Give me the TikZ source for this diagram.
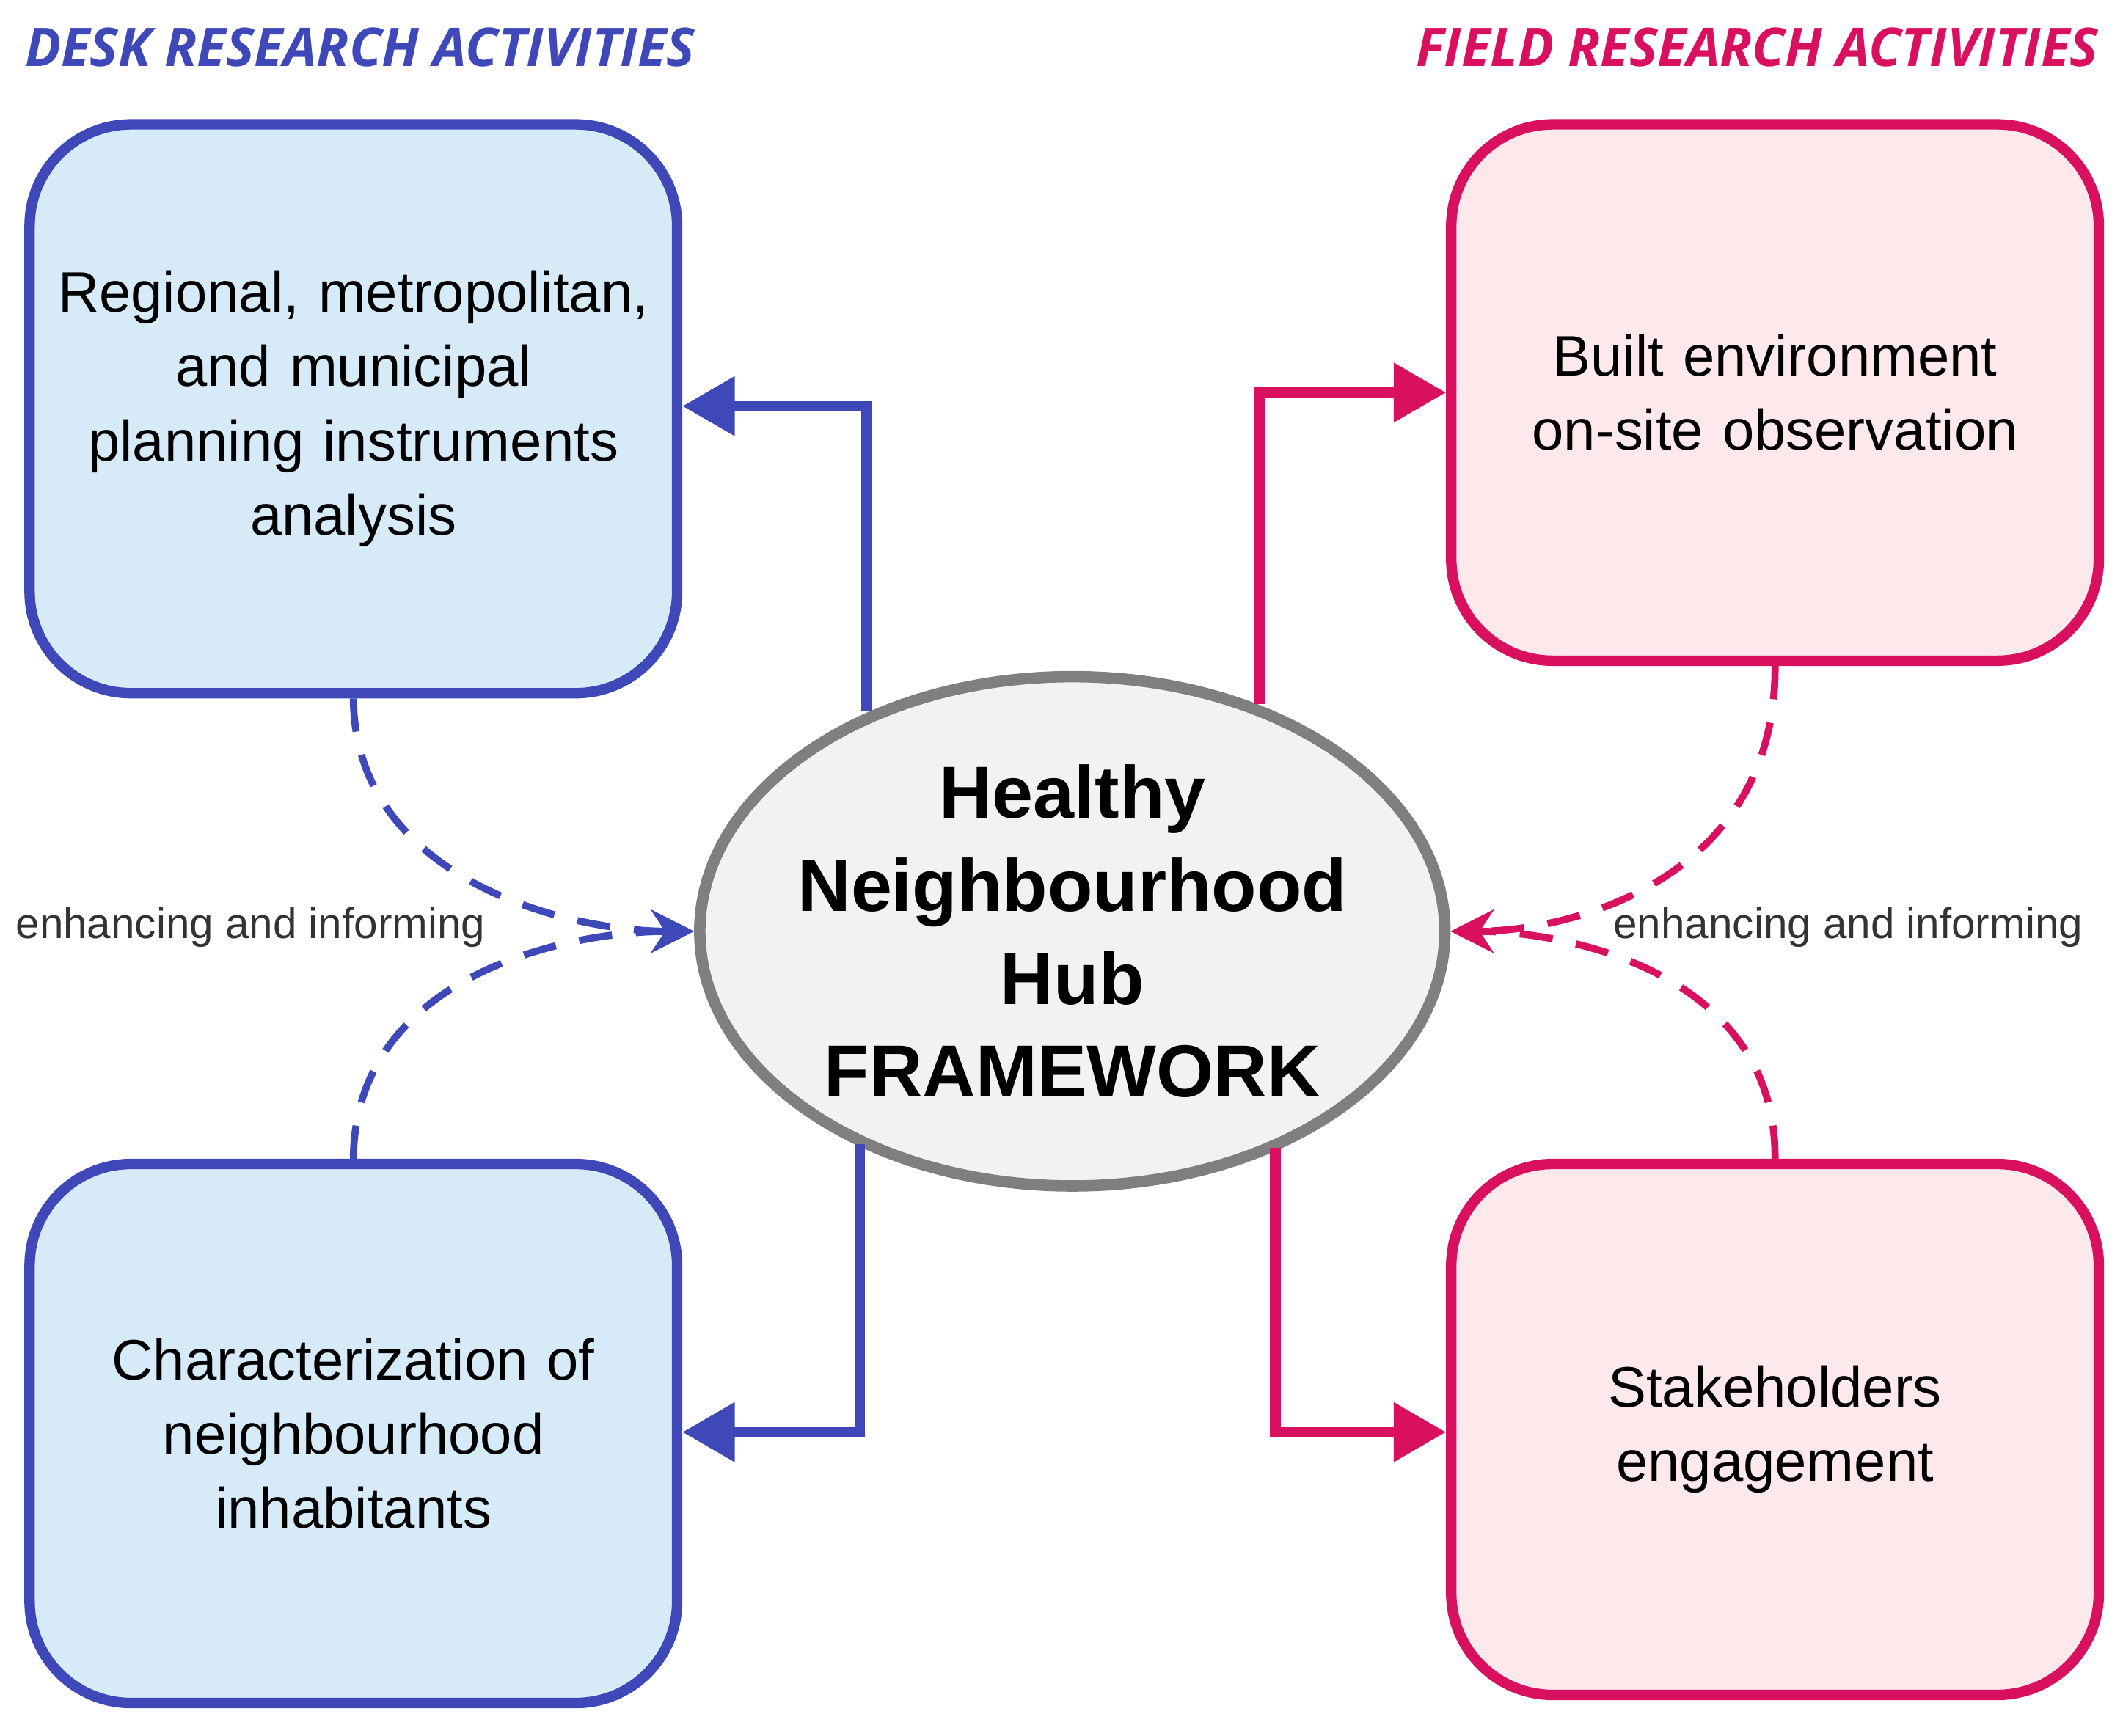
\documentclass[tikz,border=0pt]{standalone}
\usepackage{fontspec}
\setmainfont{Liberation Sans}
\newfontfamily\titlefont{Open Sans}
\usetikzlibrary{shapes.geometric,arrows.meta}
\definecolor{deskblue}{HTML}{3F48B8}
\definecolor{deskfill}{HTML}{D6EAF8}
\definecolor{fieldred}{HTML}{D9105F}
\definecolor{fieldfill}{HTML}{FDE8EC}
\definecolor{hubgray}{HTML}{7F7F7F}
\definecolor{hubfill}{HTML}{F2F2F2}
\tikzset{
  box/.style={draw,line width=2.2pt,rounded corners=0.75cm,minimum width=4.78cm,text width=4.5cm,align=center,font=\fontsize{12}{15.6}\selectfont},
  desk/.style={box,draw=deskblue,fill=deskfill},
  field/.style={box,draw=fieldred,fill=fieldfill},
  link/.style={line width=2.2pt,-{Triangle[length=11pt,width=12pt]}},
  feed/.style={line width=1.5pt,dashed,dash pattern=on 7pt off 5pt,-{Stealth[length=9pt,width=9pt]}},
  heading/.style={font=\titlefont\bfseries\itshape\fontsize{11.2}{14}\selectfont},
}
\begin{document}
\begin{tikzpicture}[x=0.01cm,y=-0.01cm]
\useasboundingbox (0,0) rectangle (1568,1282);
\node[heading,text=deskblue,anchor=west] (deskT) at (6,35) {DESK RESEARCH ACTIVITIES};
\node[heading,text=fieldred,anchor=east] (fieldT) at (1562,35) {FIELD RESEARCH ACTIVITIES};
\node[desk,minimum height=4.2cm] (plan) at (261,302) {Regional, metropolitan,\\and municipal\\planning instruments\\analysis};
\node[desk,minimum height=3.98cm] (inhab) at (261,1059) {Characterization of\\neighbourhood\\inhabitants};
\node[field,minimum height=3.96cm] (built) at (1311,290) {Built environment\\on-site observation};
\node[field,minimum height=3.92cm] (stake) at (1311,1056) {Stakeholders\\engagement};
\node[ellipse,draw=hubgray,fill=hubfill,line width=2.4pt,minimum width=5.5cm,minimum height=3.76cm,inner sep=-6pt,align=center,font=\bfseries\fontsize{15.5}{19.5}\selectfont] (hub) at (792,688) {Healthy\\Neighbourhood\\Hub\\FRAMEWORK};
% solid links
\draw[link,deskblue] (640,525) |- (plan.east |- 0,300);
\draw[link,deskblue] (635,845) |- (inhab.east |- 0,1058);
\draw[link,fieldred] (930,520) |- (built.west |- 0,290);
\draw[link,fieldred] (942,848) |- (stake.west |- 0,1058);
% dashed feeds
\draw[feed,deskblue] (plan.south) .. controls (262,650) and (420,688) .. (hub.west);
\draw[feed,deskblue] (inhab.north) .. controls (262,720) and (420,688) .. (hub.west);
\draw[feed,fieldred] (built.south) .. controls (1312,650) and (1160,688) .. (hub.east);
\draw[feed,fieldred] (stake.north) .. controls (1312,720) and (1160,688) .. (hub.east);
\node[font=\fontsize{9}{11}\selectfont,text=black!80] (lblL) at (185,685) {enhancing and informing};
\node[font=\fontsize{9}{11}\selectfont,text=black!80] (lblR) at (1365,685) {enhancing and informing};
\end{tikzpicture}
\end{document}
